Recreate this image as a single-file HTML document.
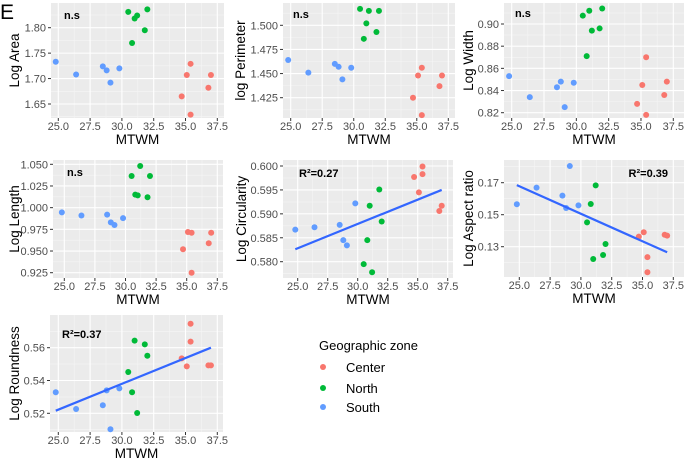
<!DOCTYPE html>
<html><head><meta charset="utf-8">
<style>
html,body{margin:0;padding:0;background:#fff;}
svg{display:block;font-family:"Liberation Sans",sans-serif;}
</style></head>
<body>
<svg id="fig" width="685" height="464" viewBox="0 0 685 464" xmlns="http://www.w3.org/2000/svg">
<text x="0" y="19" font-size="21" fill="#000">E</text>
<g>
<text x="319" y="350" font-size="13" fill="#000">Geographic zone</text>
<circle cx="323" cy="367" r="3" fill="#F8766D"/>
<text x="346" y="372" font-size="13" fill="#000">Center</text>
<circle cx="323" cy="388" r="3" fill="#00BA38"/>
<text x="346" y="393" font-size="13" fill="#000">North</text>
<circle cx="323" cy="407" r="3" fill="#619CFF"/>
<text x="346" y="412" font-size="13" fill="#000">South</text>
</g>
</svg>
<script>
// shared x (MTWM) per population
const xSouth = [24.8, 26.4, 28.5, 28.8, 29.1, 29.8];
const xNorth = [30.5, 30.8, 31.0, 31.2, 31.8, 32.0];
const xCenter = [34.7, 35.1, 35.4, 35.4, 36.8, 37.0];
const xTicks = [25.0, 27.5, 30.0, 32.5, 35.0, 37.5];

const areaSouth = [1.733, 1.708, 1.724, 1.716, 1.692, 1.720];
const areaNorth = [1.831, 1.770, 1.818, 1.824, 1.795, 1.836];
const areaCenter = [1.665, 1.707, 1.729, 1.629, 1.682, 1.707];
const areaTicks = [1.65, 1.70, 1.75, 1.80];

const perimSouth = [1.464, 1.451, 1.460, 1.457, 1.444, 1.456];
const perimNorth = [1.517, 1.486, 1.502, 1.515, 1.493, 1.515];
const perimCenter = [1.425, 1.448, 1.456, 1.407, 1.437, 1.448];
const perimTicks = [1.425, 1.450, 1.475, 1.500];

const widthSouth = [0.853, 0.834, 0.843, 0.848, 0.825, 0.847];
const widthNorth = [0.9075, 0.871, 0.912, 0.894, 0.896, 0.914];
const widthCenter = [0.828, 0.845, 0.870, 0.818, 0.836, 0.848];
const widthTicks = [0.82, 0.84, 0.86, 0.88, 0.90];

const lengthSouth = [0.9946, 0.991, 0.992, 0.983, 0.980, 0.988];
const lengthNorth = [1.0365, 1.015, 1.0142, 1.048, 1.012, 1.0365];
const lengthCenter = [0.952, 0.972, 0.971, 0.925, 0.959, 0.971];
const lengthTicks = [0.925, 0.950, 0.975, 1.000, 1.025, 1.050];

const circSouth = [0.5867, 0.5872, 0.5877, 0.5845, 0.5834, 0.5922];
const circNorth = [0.5795, 0.5845, 0.5917, 0.5778, 0.5951, 0.5884];
const circCenter = [0.5977, 0.5945, 0.5999, 0.5983, 0.5906, 0.5917];
const circTicks = [0.580, 0.585, 0.590, 0.595, 0.600];
const circFit = [0.5826, 0.5950];

const aspSouth = [0.1565, 0.1669, 0.1619, 0.1542, 0.1804, 0.1558];
const aspNorth = [0.1452, 0.1567, 0.1223, 0.1683, 0.1248, 0.1317];
const aspCenter = [0.1363, 0.1390, 0.1235, 0.1140, 0.1375, 0.1369];
const aspTicks = [0.13, 0.15, 0.17];
const aspFit = [0.1685, 0.1265];

const roundSouth = [0.5328, 0.5226, 0.5249, 0.534, 0.5103, 0.5352];
const roundNorth = [0.5452, 0.5328, 0.5643, 0.5202, 0.562, 0.5551];
const roundCenter = [0.5535, 0.5486, 0.5746, 0.5637, 0.5492, 0.5492];
const roundTicks = [0.52, 0.54, 0.56];
const roundFit = [0.5216, 0.5600];
const fitX = [24.8, 37.0];

const NS = 'http://www.w3.org/2000/svg';
const svg = document.getElementById('fig');
function mk(tag, attrs, parent) {
  const e = document.createElementNS(NS, tag);
  for (const k in attrs) e.setAttribute(k, attrs[k]);
  parent.appendChild(e);
  return e;
}
function fmt(v, d) { return v.toFixed(d); }

const panels = [
  {id:'area', title:'Log Area', rect:[51,3,224,118], xs:[58.3,217.3], ys:[1.80,27.7,1.65,104], S:areaSouth, N:areaNorth, C:areaCenter, ticks:areaTicks, dec:2, ytx:19, ann:'n.s', annX:64, annY:19},
  {id:'perimeter', title:'log Perimeter', rect:[283,3,455,118], xs:[290.7,448.3], ys:[1.500,25.3,1.425,97.7], S:perimSouth, N:perimNorth, C:perimCenter, ticks:perimTicks, dec:3, ytx:245, ann:'n.s', annX:293, annY:18},
  {id:'width', title:'Log Width', rect:[504,3,684,118], xs:[511.7,673.3], ys:[0.90,24,0.82,112.7], S:widthSouth, N:widthNorth, C:widthCenter, ticks:widthTicks, dec:2, ytx:473, ann:'n.s', annX:515, annY:17},
  {id:'length', title:'Log Length', rect:[53,160,223,278], xs:[64.3,217.3], ys:[1.050,164.3,0.925,272.7], S:lengthSouth, N:lengthNorth, C:lengthCenter, ticks:lengthTicks, dec:3, ytx:19, ann:'n.s', annX:67, annY:176},
  {id:'circularity', title:'Log Circularity', rect:[283,160,453,278], xs:[297.7,447.7], ys:[0.600,166,0.580,261.7], S:circSouth, N:circNorth, C:circCenter, ticks:circTicks, dec:3, ytx:246, ann:'R²=0.27', annX:299, annY:177, fit:circFit},
  {id:'aspect-ratio', title:'Log Aspect ratio', rect:[504,160,684,277], xs:[519.3,673.3], ys:[0.17,182.7,0.13,246.7], S:aspSouth, N:aspNorth, C:aspCenter, ticks:aspTicks, dec:2, ytx:473, ann:'R²=0.39', annX:668, annY:177, anchor:'end', fit:aspFit},
  {id:'roundness', title:'Log Roundness', rect:[50,315,223,432], xs:[58.3,217.3], ys:[0.56,347.7,0.52,413.3], S:roundSouth, N:roundNorth, C:roundCenter, ticks:roundTicks, dec:2, ytx:19, ann:'R²=0.37', annX:62, annY:338, fit:roundFit}
];

panels.forEach(p => {
  const [x0,y0,x1,y1] = p.rect;
  const sx = v => p.xs[0] + (v - 25) * (p.xs[1] - p.xs[0]) / 12.5;
  const sy = v => p.ys[1] + (v - p.ys[0]) * (p.ys[3] - p.ys[1]) / (p.ys[2] - p.ys[0]);
  const g = mk('g', {}, svg);
  
  
  const bg = mk('rect', {x:x0, y:y0, width:x1-x0, height:y1-y0, fill:'#EBEBEB'}, g);
  
  
  for (let i = 0; i < xTicks.length - 1; i++) {
    const xm = sx((xTicks[i] + xTicks[i+1]) / 2);
    mk('line', {x1:xm, x2:xm, y1:y0, y2:y1, stroke:'#F5F5F5', 'stroke-width':0.6}, g);
  }
  const step = p.ticks[1] - p.ticks[0];
  const yms = [p.ticks[0] - step/2];
  for (let i = 0; i < p.ticks.length; i++) yms.push(p.ticks[i] + step/2);
  yms.forEach(v => { const y = sy(v); if (y > y0 && y < y1) mk('line', {x1:x0, x2:x1, y1:y, y2:y, stroke:'#F5F5F5', 'stroke-width':0.6}, g); });
  xTicks.forEach(t => {
    const x = sx(t);
    mk('line', {x1:x, x2:x, y1:y0, y2:y1, stroke:'#fff', 'stroke-width':1.1}, g);
    mk('line', {x1:x, x2:x, y1:y1, y2:y1+3, stroke:'#333', 'stroke-width':1}, g);
    const tl = mk('text', {x:x, y:y1+12, 'font-size':11, fill:'#4D4D4D', 'text-anchor':'middle'}, g);
    tl.textContent = t.toFixed(1);
    
    
  });
  p.ticks.forEach(t => {
    const y = sy(t);
    mk('line', {x1:x0, x2:x1, y1:y, y2:y, stroke:'#fff', 'stroke-width':1.1}, g);
    mk('line', {x1:x0-3, x2:x0, y1:y, y2:y, stroke:'#333', 'stroke-width':1}, g);
    const tl = mk('text', {x:x0-5, y:y+4, 'font-size':11, fill:'#4D4D4D', 'text-anchor':'end'}, g);
    tl.textContent = fmt(t, p.dec);
    
    
  });
  const xt = mk('text', {x:(x0+x1)/2, y:y1+26, 'font-size':13.5, fill:'#000', 'text-anchor':'middle'}, g);
  xt.textContent = 'MTWM';
  
  
  const yc = (y0+y1)/2;
  const yt = mk('text', {x:p.ytx, y:yc, 'font-size':13.5, fill:'#000', 'text-anchor':'middle', transform:'rotate(-90 '+p.ytx+' '+yc+')'}, g);
  yt.textContent = p.title;
  
  
  const groups = [[xSouth, p.S, '#619CFF', 'south'], [xNorth, p.N, '#00BA38', 'north'], [xCenter, p.C, '#F8766D', 'center']];
  groups.forEach(([xs, ys, col, nm]) => {
    xs.forEach((xv, i) => {
      const c = mk('circle', {cx:sx(xv), cy:sy(ys[i]), r:3, fill:col}, g);
      
      
    });
  });
  if (p.fit) {
    const l = mk('line', {x1:sx(fitX[0]), y1:sy(p.fit[0]), x2:sx(fitX[1]), y2:sy(p.fit[1]), stroke:'#3366FF', 'stroke-width':2.2}, g);
    
    
  }
  const a = mk('text', {x:p.annX, y:p.annY, 'font-size':11, 'font-weight':'bold', fill:'#000', 'text-anchor':p.anchor||'start'}, g);
  a.textContent = p.ann;
  
  
});
</script>
</body></html>
